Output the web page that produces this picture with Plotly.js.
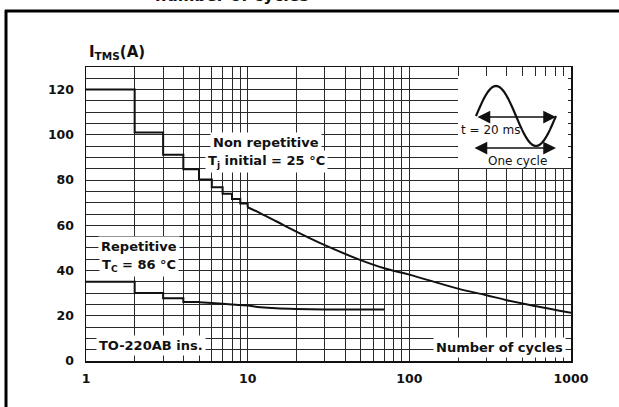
<!DOCTYPE html>
<html>
<head>
<meta charset="utf-8">
<script src="https://cdn.plot.ly/plotly-3.0.1.min.js"></script>
<style>html,body{margin:0;padding:0;background:#fff;}#chart{width:619px;height:407px;}</style>
</head>
<body>
<div id="chart"></div>
<script>
// ---- data ----
var nonRepStepX = [1, 2, 3, 4, 5, 6, 7, 8, 9, 10];
var nonRepStepY = [120, 101, 91.2, 84.8, 80.3, 76.8, 74.0, 71.6, 69.6, 68.0];
var nonRepCurveX = [10, 12, 15, 20, 30, 50, 70, 100, 200, 300, 400, 600, 1000];
var nonRepCurveY = [68.0, 65.3, 61.8, 57.2, 51.2, 44.6, 41.0, 38.2, 32.0, 29.1, 26.9, 24.3, 21.3];
var repStepX = [1, 2, 3, 4, 5];
var repStepY = [35.0, 30.1, 27.7, 26.1, 26.0];
var repCurveX = [5, 6, 7, 8, 9, 10, 12, 15, 20, 30, 70];
var repCurveY = [26.0, 25.6, 25.3, 25.0, 24.8, 24.5, 23.8, 23.3, 23.0, 22.8, 22.8];

var xTickVals = [1, 10, 100, 1000];
var xTickText = ['1', '10', '100', '1000'];
var xMinorVals = [2,3,4,5,6,7,8,9,20,30,40,50,60,70,80,90,200,300,400,500,600,700,800,900];
var yTickVals = [0, 20, 40, 60, 80, 100, 120];
var yTickText = ['0', '20', '40', '60', '80', '100', '120'];
var yMinorVals = [5,10,15,25,30,35,45,50,55,65,70,75,85,90,95,105,110,115,125,130];

// ---- pixel helpers for decorations (plot area: x 86..571, y 67..361) ----
var L = 86, R = 571, T = 67, B = 361;
function X(px){ return (px - L) / (R - L); }
function Y(py){ return (B - py) / (B - T); }

var lineStyle = {color: '#111', width: 2};
var traces = [
  {x: nonRepStepX, y: nonRepStepY, mode: 'lines', line: Object.assign({shape: 'hv'}, lineStyle), hoverinfo: 'skip'},
  {x: nonRepCurveX, y: nonRepCurveY, mode: 'lines', line: Object.assign({shape: 'spline'}, lineStyle), hoverinfo: 'skip'},
  {x: repStepX, y: repStepY, mode: 'lines', line: Object.assign({shape: 'hv'}, lineStyle), hoverinfo: 'skip'},
  {x: repCurveX, y: repCurveY, mode: 'lines', line: Object.assign({shape: 'spline'}, lineStyle), hoverinfo: 'skip'}
];

// sine icon path (decoration)
var sp = '';
for (var i = 0; i <= 40; i++) {
  var px = 476 + i * 2;
  var py = 116 - 30 * Math.sin(2 * Math.PI * i / 40);
  sp += (i === 0 ? 'M' : 'L') + X(px).toFixed(4) + ',' + Y(py).toFixed(4);
}

var F = 'DejaVu Sans';
var boldFont = {family: F, size: 13, color: '#111', weight: 'bold'};
var smallFont = {family: F, size: 12, color: '#111'};

function boxText(text, cx, cy, font){
  return {xref: 'paper', yref: 'paper', x: X(cx), y: Y(cy), xanchor: 'center', yanchor: 'middle',
          text: text, showarrow: false, font: font || boldFont, bgcolor: '#fff', borderpad: 2};
}
function dblArrow(x1, x2, y){
  return {xref: 'paper', yref: 'paper', x: X(x2), y: Y(y), ax: x1 - x2, ay: 0, axref: 'pixel', ayref: 'pixel',
          text: '', showarrow: true, arrowside: 'end+start', arrowhead: 2, startarrowhead: 2,
          arrowsize: 1.7, startarrowsize: 1.7, arrowwidth: 1.5, arrowcolor: '#111', standoff: 0, startstandoff: 0};
}

var gridC = '#2a2a2a';
var layout = {
  width: 619, height: 407,
  margin: {l: L, r: 619 - R, t: T, b: 407 - B, pad: 0},
  paper_bgcolor: '#fff', plot_bgcolor: '#fff',
  showlegend: false,
  xaxis: {
    type: 'log', range: [0, 3], tickmode: 'array', tickvals: xTickVals, ticktext: xTickText,
    showgrid: true, gridcolor: gridC, gridwidth: 1, zeroline: false,
    minor: {tickmode: 'array', tickvals: xMinorVals, showgrid: true, gridcolor: gridC, gridwidth: 1, ticks: ''},
    showline: true, linecolor: '#111', linewidth: 1.5, mirror: true,
    ticks: 'outside', ticklen: 5, tickcolor: 'rgba(0,0,0,0)',
    tickfont: {family: F, size: 12.5, color: '#111', weight: 'bold'}
  },
  yaxis: {
    range: [0, 130], tickmode: 'array', tickvals: yTickVals, ticktext: yTickText,
    showgrid: true, gridcolor: gridC, gridwidth: 1, zeroline: false,
    minor: {tickmode: 'array', tickvals: yMinorVals, showgrid: true, gridcolor: gridC, gridwidth: 1, ticks: ''},
    showline: true, linecolor: '#111', linewidth: 1.5, mirror: true,
    ticks: 'outside', ticklen: 8, tickcolor: 'rgba(0,0,0,0)',
    tickfont: {family: F, size: 12.5, color: '#111', weight: 'bold'}
  },
  shapes: [
    // inset white panel
    {type: 'rect', xref: 'paper', yref: 'paper', x0: X(458), x1: X(568), y0: Y(168), y1: Y(76),
     fillcolor: '#fff', line: {width: 0}, layer: 'above'},
    {type: 'path', xref: 'paper', yref: 'paper', path: sp, line: {color: '#111', width: 2.2}, layer: 'above'},
    // outer frame
    {type: 'line', xref: 'paper', yref: 'paper', x0: X(5), x1: X(619), y0: Y(11), y1: Y(11), line: {color: '#000', width: 3}},
    {type: 'line', xref: 'paper', yref: 'paper', x0: X(6), x1: X(6), y0: Y(10), y1: Y(407), line: {color: '#000', width: 3}}
  ],
  annotations: [
    {xref: 'paper', yref: 'paper', x: X(87), y: Y(64), xanchor: 'left', yanchor: 'bottom', showarrow: false,
     text: 'I<sub>TMS</sub>(A)', font: {family: F, size: 15, color: '#111', weight: 'bold'}},
    boxText('Non repetitive', 266, 142),
    boxText('T<sub>j</sub> initial = 25 °C', 266, 161),
    boxText('Repetitive', 139, 246),
    boxText('T<sub>C</sub> = 86 °C', 139, 265),
    boxText('TO-220AB ins.', 151, 345),
    boxText('Number of cycles', 499, 347),
    {xref: 'paper', yref: 'paper', x: X(490), y: Y(130), xanchor: 'center', yanchor: 'middle', showarrow: false,
     text: 't = 20 ms', font: smallFont},
    {xref: 'paper', yref: 'paper', x: X(517), y: Y(161), xanchor: 'center', yanchor: 'middle', showarrow: false,
     text: 'One cycle', font: smallFont},
    dblArrow(476, 556, 117),
    dblArrow(473, 556, 148),
    // clipped figure caption at the very top
    {xref: 'paper', yref: 'paper', x: X(232), y: Y(7), xanchor: 'center', yanchor: 'bottom', showarrow: false,
     text: 'number of cycles', font: {family: F, size: 16, color: '#111', weight: 'bold'}}
  ]
};

Plotly.newPlot('chart', traces, layout, {staticPlot: true, displayModeBar: false});
</script>
</body>
</html>
